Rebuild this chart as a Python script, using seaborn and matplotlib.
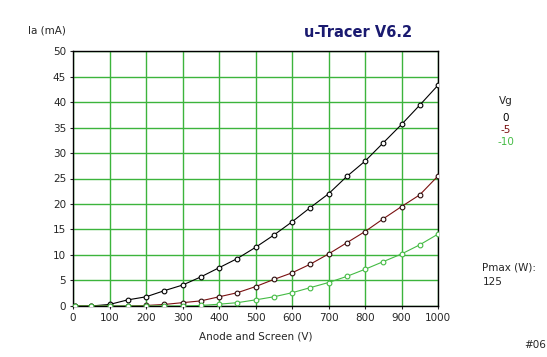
import matplotlib
matplotlib.use("Agg")
import matplotlib.pyplot as plt
import seaborn as sns
import pandas as pd

# anode voltage (V) for each measured point
volts = [5, 50, 100, 150, 200, 250, 300, 350, 400, 450, 500,
         550, 600, 650, 700, 750, 800, 850, 900, 950, 1000]

# anode current (mA) per grid voltage
ia_0 = [0.0, 0.0, 0.3, 1.2, 1.8, 3.0, 4.1, 5.7, 7.5, 9.3, 11.5,
        13.9, 16.5, 19.3, 22.0, 25.4, 28.4, 32.0, 35.6, 39.4, 43.3]
ia_m5 = [0.0, 0.0, 0.0, 0.0, 0.1, 0.3, 0.65, 1.0, 1.8, 2.6, 3.8,
         5.2, 6.5, 8.2, 10.2, 12.4, 14.6, 17.1, 19.5, 21.8, 25.5]
ia_m10 = [0.0, 0.0, 0.0, 0.0, 0.0, 0.0, 0.0, 0.1, 0.35, 0.65, 1.2,
          1.8, 2.6, 3.6, 4.6, 5.8, 7.2, 8.7, 10.2, 12.0, 14.1]

vg_labels = ["0", "-5", "-10"]
colors = ["#000000", "#7a1010", "#44bb44"]
edge_colors = ["#000000", "#2a0a0a", "#44bb44"]


def main():
    sns.set_style("white")
    plt.rcParams['font.family'] = ['DejaVu Sans']

    fig = plt.figure(figsize=(5.47, 3.57), dpi=100)
    ax = fig.add_axes([0.1335, 0.1429, 0.6673, 0.7142])

    series = [ia_0, ia_m5, ia_m10]
    for vals, lab, c, ec in zip(series, vg_labels, colors, edge_colors):
        df = pd.DataFrame({"Va": volts, "Ia": vals})
        sns.lineplot(x="Va", y="Ia", data=df, ax=ax, color=c, lw=0.8,
                     marker="o", markersize=3.4, markerfacecolor="white",
                     markeredgecolor=ec, markeredgewidth=0.8, zorder=3)

    ax.set_xlim(0, 1000)
    ax.set_ylim(0, 50)
    ax.set_xticks(range(0, 1001, 100))
    ax.set_yticks(range(0, 51, 5))
    ax.grid(True, color="#3cb43c", lw=1.0)
    ax.set_axisbelow(True)
    for s in ax.spines.values():
        s.set_color("black")
        s.set_linewidth(1.0)
    ax.tick_params(axis="both", labelsize=7.5, length=2, width=0.8,
                   left=True, bottom=True, pad=3)
    ax.set_xlabel("Anode and Screen (V)", fontsize=7.5, labelpad=6)
    ax.set_ylabel("")

    fig.text(0.051, 0.915, "Ia (mA)", fontsize=7.5, ha="left", va="center")
    fig.text(0.654, 0.91, "u-Tracer V6.2", fontsize=10.5, color="#1a1a70",
             fontweight="bold", ha="center", va="center")

    fig.text(0.925, 0.716, "Vg", fontsize=7.5, ha="center", va="center")
    yy = [0.670, 0.637, 0.603]
    for lab, c, y in zip(vg_labels, colors, yy):
        fig.text(0.925, y, lab, fontsize=7.5, color=c, ha="center", va="center")

    fig.text(0.882, 0.250, "Pmax (W):", fontsize=7.5, ha="left", va="center")
    fig.text(0.882, 0.210, "125", fontsize=7.5, ha="left", va="center")
    fig.text(0.958, 0.035, "#06", fontsize=7.5, ha="left", va="center")

    plt.savefig("out.png", dpi=100)


if __name__ == "__main__":
    main()
